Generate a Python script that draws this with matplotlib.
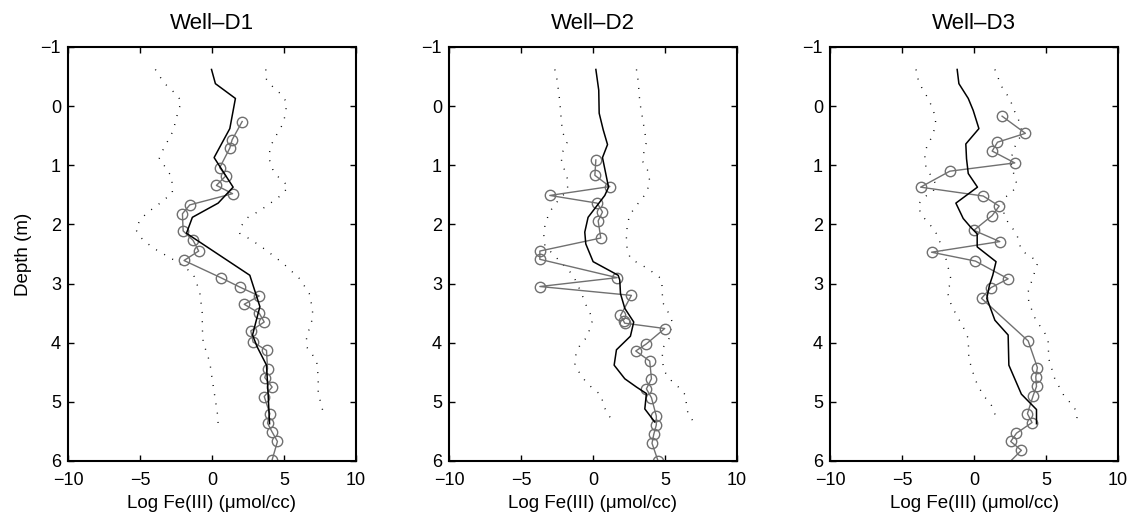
import matplotlib
matplotlib.use("Agg")
import matplotlib.pyplot as plt

plt.rcParams['font.family'] = ['Liberation Sans', 'DejaVu Sans']

titles = ["Well-D1", "Well-D2", "Well-D3"]
x_ticks = [-10, -5, 0, 5, 10]
y_ticks = [-1, 0, 1, 2, 3, 4, 5, 6]

# ---- Well-D1 ----
d1_obs_x = [2.10, 1.40, 1.24, 0.54, 0.96, 0.31, 1.43, -1.54, -2.05, -2.00, -1.31, -0.92,
            -1.94, 0.61, 1.94, 3.28, 2.24, 3.28, 3.63, 2.70, 2.86, 3.79, 3.86, 3.67,
            4.18, 3.63, 4.02, 3.86, 4.18, 4.55, 4.18]
d1_obs_y = [0.26, 0.57, 0.71, 1.04, 1.18, 1.34, 1.48, 1.67, 1.82, 2.11, 2.27, 2.45,
            2.61, 2.90, 3.06, 3.21, 3.35, 3.50, 3.65, 3.80, 3.99, 4.13, 4.44, 4.59,
            4.75, 4.91, 5.20, 5.36, 5.51, 5.67, 5.98]
d1_mean_x = [-0.03, 0.24, 1.63, 1.24, 0.66, 0.15, 1.47, 0.43, -1.36, -1.77, 2.63, 3.33,
             3.05, 2.82, 3.14, 3.79, 3.90, 4.00]
d1_mean_y = [-0.62, -0.38, -0.13, 0.38, 0.64, 0.87, 1.37, 1.64, 1.88, 2.15, 2.86, 3.39,
             3.65, 3.87, 4.07, 4.38, 4.86, 5.37]
d1_lo_x = [-3.93, -3.51, -3.05, -2.51, -2.12, -2.35, -2.70, -3.05, -3.40, -3.67, -3.21,
           -2.82, -2.75, -2.75, -3.86, -4.50, -5.00, -5.30, -5.00, -4.44, -3.86, -2.58,
           -1.31, -0.85, -0.68, -0.66, -0.61, -0.15, 0.03, 0.24, 0.38, 0.43]
d1_lo_y = [-0.62, -0.46, -0.32, -0.21, -0.08, 0.09, 0.42, 0.58, 0.74, 0.89, 1.04,
           1.19, 1.34, 1.47, 1.69, 1.80, 1.93, 2.08, 2.21, 2.33, 2.43, 2.61,
           2.83, 3.14, 3.48, 3.79, 3.99, 4.33, 4.64, 4.97, 5.20, 5.37]
d1_hi_x = [3.74, 3.79, 4.25, 4.76, 5.18, 5.13, 4.95, 4.60, 4.25, 4.02, 3.97, 4.25, 4.72,
           5.30, 4.95, 3.79, 3.09, 2.51, 2.05, 1.93, 2.58, 3.21, 3.79, 4.95, 6.10, 6.76,
           7.00, 6.90, 6.57, 6.57, 7.27, 7.38, 7.38, 7.61, 7.77]
d1_hi_y = [-0.62, -0.45, -0.32, -0.21, -0.07, 0.10, 0.29, 0.44, 0.58, 0.74, 0.89, 1.09,
           1.23, 1.35, 1.48, 1.69, 1.80, 1.88, 2.02, 2.15, 2.24, 2.34, 2.44, 2.66, 2.92,
           3.17, 3.45, 3.70, 3.87, 4.07, 4.30, 4.58, 4.86, 5.06, 5.23]

# ---- Well-D2 ----
d2_obs_x = [0.20, 0.13, 1.17, -3.00, 0.29, 0.66, 0.36, 0.54, -3.69, -3.69, 1.68, -3.69,
            2.67, 1.91, 2.14, 2.20, 4.98, 3.71, 2.97, 3.94, 4.06, 3.71, 4.06, 4.40,
            4.40, 4.22, 4.10, 4.52]
d2_obs_y = [0.91, 1.17, 1.36, 1.51, 1.64, 1.79, 1.94, 2.23, 2.45, 2.59, 2.90, 3.05,
            3.20, 3.54, 3.64, 3.67, 3.76, 4.02, 4.14, 4.31, 4.61, 4.78, 4.93, 5.24,
            5.39, 5.55, 5.70, 6.00]
d2_mean_x = [0.20, 0.40, 0.43, 0.71, 1.01, 0.66, 1.08, 0.82, -0.34, -0.57, -0.50, 0.01,
             1.75, 1.86, 1.91, 2.21, 2.83, 2.60, 1.63, 1.47, 2.21, 3.02, 3.71, 3.60,
             4.29]
d2_mean_y = [-0.62, -0.27, 0.12, 0.40, 0.65, 0.87, 1.37, 1.51, 1.88, 2.13, 2.33, 2.63,
             2.86, 2.94, 3.17, 3.42, 3.65, 3.89, 4.12, 4.38, 4.61, 4.75, 4.86, 5.12,
             5.34]
d2_lo_x = [-2.65, -2.49, -2.30, -2.25, -2.12, -1.79, -2.12, -2.19, -1.95, -1.72, -1.79,
           -2.76, -3.11, -3.34, -3.41, -3.34, -1.88, -1.38, -0.84, -0.34, 0.01, -0.40,
           -0.91, -1.19, -1.26, -0.91, -0.50, 0.01, 0.59, 0.71, 1.05, 1.45]
d2_lo_y = [-0.62, -0.44, -0.07, 0.10, 0.44, 0.61, 0.78, 0.93, 1.10, 1.27, 1.43,
           1.69, 1.85, 2.02, 2.19, 2.36, 2.73, 2.86, 3.14, 3.45, 3.59, 3.90,
           4.04, 4.21, 4.38, 4.52, 4.66, 4.78, 4.89, 5.06, 5.21, 5.36]
d2_hi_x = [3.02, 3.13, 3.20, 3.25, 3.37, 3.60, 3.71, 3.53, 3.48, 3.83, 3.94, 3.76, 3.37,
           2.90, 2.51, 2.37, 2.32, 2.37, 2.60, 3.83, 4.75, 4.82, 4.82, 5.21, 5.51, 5.28,
           4.82, 4.82, 4.91, 5.44, 5.98, 6.44, 6.49, 6.61, 7.06]
d2_hi_y = [-0.62, -0.44, -0.24, -0.07, 0.10, 0.44, 0.61, 0.79, 0.95, 1.10, 1.27, 1.44,
           1.58, 1.71, 1.87, 2.05, 2.24, 2.41, 2.58, 2.75, 2.92, 3.11, 3.31, 3.48, 3.65,
           3.93, 4.10, 4.27, 4.47, 4.64, 4.76, 4.89, 5.06, 5.21, 5.36]

# ---- Well-D3 ----
d3_obs_x = [1.95, 3.57, 1.63, 1.26, 2.83, -1.68, -3.71, 0.64, 1.75, 1.26, -0.01, 1.79,
            -2.95, 0.10, 2.37, 1.17, 0.52, 3.76, 4.40, 4.29, 4.34, 4.10, 3.71, 4.03,
            2.95, 2.55, 3.29, 2.05]
d3_obs_y = [0.17, 0.46, 0.61, 0.76, 0.96, 1.10, 1.37, 1.52, 1.69, 1.85, 2.10, 2.29,
            2.47, 2.62, 2.92, 3.07, 3.25, 3.97, 4.42, 4.58, 4.74, 4.90, 5.20, 5.35,
            5.53, 5.67, 5.82, 6.12]
d3_mean_x = [-1.17, -1.05, -0.40, -0.06, 0.34, -0.57, -0.52, -0.40, 0.24, -1.26, -0.75,
             -0.22, 0.22, 0.22, 1.53, 1.30, 1.07, 0.89, 1.45, 2.37, 2.42, 3.29, 4.34, 4.34]
d3_mean_y = [-0.62, -0.38, -0.13, 0.07, 0.38, 0.64, 0.89, 1.14, 1.37, 1.64, 1.90,
             2.05, 2.16, 2.38, 2.63, 2.86, 3.03, 3.25, 3.62, 3.87, 4.38, 4.87, 5.13, 5.37]
d3_lo_x = [-4.03, -3.87, -3.57, -3.18, -2.88, -2.65, -2.72, -2.95, -3.29, -3.41, -3.34,
           -2.60, -2.88, -3.41, -3.87, -3.71, -3.23, -2.72, -2.44, -1.91, -1.56, -1.86,
           -1.72, -1.40, -0.68, -0.40, -0.36, 0.06, 0.34, 0.75, 1.21, 1.49]
d3_lo_y = [-0.62, -0.44, -0.28, -0.13, 0.04, 0.21, 0.37, 0.53, 0.69, 0.86, 1.03,
           1.34, 1.45, 1.53, 1.66, 1.82, 1.96, 2.10, 2.25, 2.61, 2.97, 3.11,
           3.28, 3.45, 3.77, 3.93, 4.27, 4.61, 4.76, 4.92, 5.06, 5.23]
d3_hi_x = [1.45, 1.72, 2.02, 2.49, 2.72, 3.06, 3.29, 3.18, 2.83, 2.60, 2.60, 2.83, 2.99,
           2.65, 2.02, 2.09, 2.42, 2.95, 3.29, 3.83, 4.45, 4.22, 3.99, 3.76, 3.80, 4.29,
           4.80, 5.14, 5.19, 5.61, 6.30, 6.88, 7.18, 7.11]
d3_hi_y = [-0.62, -0.45, -0.28, -0.13, 0.04, 0.21, 0.37, 0.53, 0.69, 0.86, 1.03, 1.19,
           1.34, 1.45, 1.57, 1.85, 1.99, 2.15, 2.44, 2.53, 2.63, 2.80, 2.97, 3.14, 3.31,
           3.62, 3.79, 3.93, 4.27, 4.61, 4.92, 5.06, 5.20, 5.36]

wells = [
    (d1_obs_x, d1_obs_y, d1_mean_x, d1_mean_y, d1_lo_x, d1_lo_y, d1_hi_x, d1_hi_y),
    (d2_obs_x, d2_obs_y, d2_mean_x, d2_mean_y, d2_lo_x, d2_lo_y, d2_hi_x, d2_hi_y),
    (d3_obs_x, d3_obs_y, d3_mean_x, d3_mean_y, d3_lo_x, d3_lo_y, d3_hi_x, d3_hi_y),
]

fig = plt.figure(figsize=(11.31, 5.13), dpi=100)
lefts = [0.0601, 0.397, 0.7339]

for i, (ox, oy, mx, my, lx, ly, hx, hy) in enumerate(wells):
    ax = fig.add_axes([lefts[i], 0.1014, 0.2546, 0.807])
    ax.plot(lx, ly, color='black', linestyle=(0, (0.7, 6)), linewidth=1.0)
    ax.plot(hx, hy, color='black', linestyle=(0, (0.7, 6)), linewidth=1.0)
    ax.plot(ox, oy, color='#707070', linewidth=1.0, marker='o', markersize=7.5,
            markerfacecolor='none', markeredgecolor='#707070', markeredgewidth=1.0)
    ax.plot(mx, my, color='black', linewidth=1.1)
    ax.set_xlim(-10, 10)
    ax.set_ylim(6, -1)
    ax.set_xticks(x_ticks)
    ax.set_yticks(y_ticks)
    ax.set_xticklabels([str(t).replace('-', '\u2212') for t in x_ticks])
    ax.set_yticklabels([str(t).replace('-', '\u2212') for t in y_ticks])
    ax.tick_params(direction='in', top=True, right=True, length=4, width=1.0,
                   labelsize=13)
    ax.tick_params(axis='x', pad=8)
    ax.tick_params(axis='y', pad=5)
    for s in ax.spines.values():
        s.set_linewidth(1.5)
    ax.set_title(titles[i].replace('-', '\u2013'), fontsize=16, pad=13)
    ax.set_xlabel('Log Fe(III) (\u03bcmol/cc)', fontsize=13.5, labelpad=4)
    if i == 0:
        ax.set_ylabel('Depth (m)', fontsize=13.5, labelpad=6)

fig.savefig('out.png', dpi=100)
